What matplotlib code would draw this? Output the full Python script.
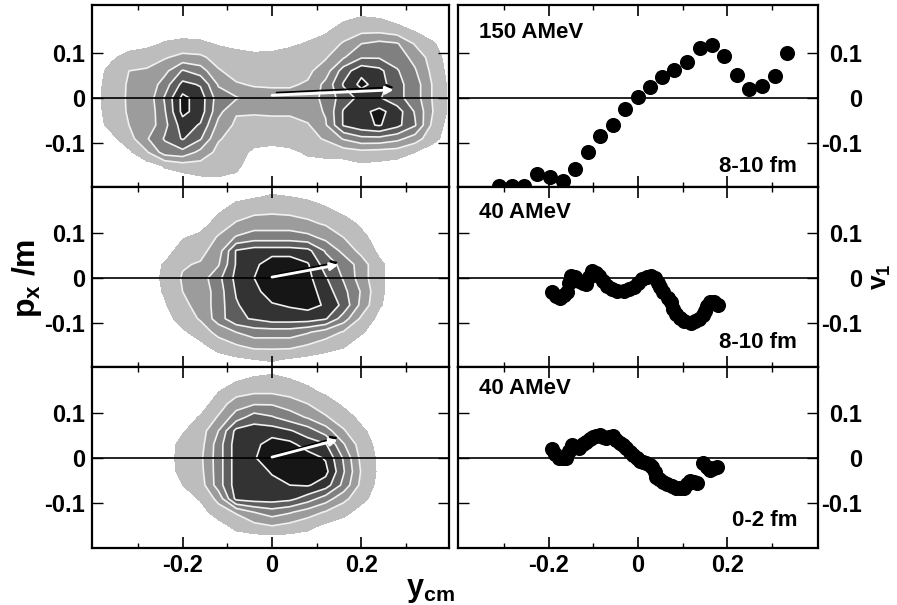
import numpy as np
import matplotlib
matplotlib.use("Agg")
import matplotlib.pyplot as plt

plt.rcParams['font.family'] = ['Liberation Sans', 'DejaVu Sans']
plt.rcParams['mathtext.fontset'] = 'custom'
plt.rcParams['mathtext.bf'] = 'Liberation Sans:bold'
plt.rcParams['mathtext.rm'] = 'Liberation Sans:bold'

W, H = 897, 605

# ---------- density grids ----------
y_rows = [.21, .18, .15, .12, .09, .06, .03, 0, -.03, -.06, -.09, -.12, -.15, -.18, -.21]
x_wide = [-.40, -.36, -.32, -.28, -.24, -.20, -.16, -.12, -.08, -.04, 0, .04, .08, .12, .16, .20, .24, .28, .32, .36, .40]
x_narrow = [-.28, -.24, -.20, -.16, -.12, -.08, -.04, 0, .04, .08, .12, .16, .20, .24, .28]

density_top = [
 [0]*21,
 [0,0,0,0,0,0,0,0,0,0,0,0,0,0,.2,.5,.4,0,0,0,0],
 [0,0,0,0,0,0,0,0,0,0,0,0,0,.3,1,1.2,1.2,.9,.4,0,0],
 [0,0,0,.2,.6,.8,.7,.4,.2,0,.1,.3,.6,1,1.6,2.5,2.8,2.6,1.4,.6,0],
 [0,.3,.9,1.1,1.4,1.8,1.7,1.1,.9,.8,.8,1,1.1,1.4,2.4,3.4,3.4,3,2.2,1,0],
 [0,.8,1.5,1.6,2.2,3.6,3,1.6,1.1,1.1,1.1,1.2,1.3,2,4,5.2,4.8,3.6,2.6,1.2,.1],
 [0,1,1.6,1.7,3,4.8,4.4,2.4,1.6,1.4,1.4,1.4,1.6,2.8,4.6,5.8,5,3.8,3,1.4,.2],
 [0,1.1,1.6,1.8,3.6,5.8,5,3,2.6,2,1.8,1.8,2,2.8,4,4.8,4.6,3.8,3,1.4,.2],
 [0,1,1.6,1.7,3.4,5.8,5,2.8,1.6,1.6,1.6,1.6,2,2.6,4.6,5.2,5.8,5,3.4,1.5,.2],
 [0,.8,1.5,1.8,3.2,5,4.4,2.2,1.3,1.2,1.3,1.3,1.4,2.4,4.6,5.2,5.6,4.8,3.6,1.2,0],
 [0,.2,1.1,2.4,3.6,4.6,3.6,1.6,1.1,.9,1,1.1,1.2,1.6,2.6,3.2,3.2,2.8,2,.8,0],
 [0,0,.3,1.4,3,3.2,2.2,1.2,.9,.3,0,.2,.7,.9,1,1.2,1.1,1,.5,0,0],
 [0,0,0,0,.6,1,1.1,.9,.7,0,0,0,0,0,0,.3,.2,0,0,0,0],
 [0,0,0,0,0,0,.3,.4,.3,0,0,0,0,0,0,0,0,0,0,0,0],
 [0]*21,
]
density_mid = [
 [0]*15,
 [0,0,0,0,0,.2,.4,.6,.5,.3,0,0,0,0,0],
 [0,0,0,0,.3,1,1.2,1.3,1.2,1.1,.7,.2,0,0,0],
 [0,0,0,0,1,1.6,2,2,2,1.7,1.4,1,.3,0,0],
 [0,0,.4,.8,1.6,2.6,3,3,3,2.8,2.2,1.5,.8,0,0],
 [0,0,1,1.2,2,4.6,5,5,5,4.8,3.4,2.2,1.2,.3,0],
 [0,.6,1.4,1.6,2.4,4.6,5.2,6.2,6.2,5.6,4,3.2,2,.7,0],
 [0,.7,1.6,2,3.2,4.8,5.5,6.5,6.5,5.8,4.6,3.4,2,.7,0],
 [0,.6,1.5,1.8,3,4.6,5.2,6,6.4,6,5,3.8,2.4,.7,0],
 [0,.4,1.3,1.8,3,4.4,5,5.4,5.6,5.8,5.4,4.2,2.2,.6,0],
 [0,0,1,1.6,3,4.3,4.6,5,5,5,4.6,3,1.3,.2,0],
 [0,0,.3,1,1.8,2.5,3,3,3,2.6,2,1.4,.6,0,0],
 [0,0,0,.2,1,1.4,1.8,1.8,1.8,1.4,1,.6,0,0,0],
 [0,0,0,0,0,.3,.5,.6,.4,.2,0,0,0,0,0],
 [0]*15,
]
density_bot = [
 [0]*15,
 [0,0,0,0,0,.2,.5,.6,.4,.1,0,0,0,0,0],
 [0,0,0,0,.4,1,1.2,1.2,1,.7,.2,0,0,0,0],
 [0,0,0,0,1,2,2.4,2.4,2,1.5,1,.3,0,0,0],
 [0,0,0,.6,1.6,3,4,3.6,3,2.4,1.6,1,.2,0,0],
 [0,0,.4,1,2.5,4.8,5,5,4.6,4,3,1.6,.7,0,0],
 [0,0,.8,1.1,3,5,5.2,6,5.8,5,4.6,2.6,1,.2,0],
 [0,0,.9,1.3,3,5,5.4,6.2,6.2,6,5.4,3.4,1.2,.3,0],
 [0,0,.8,1.2,3,5,5,5.6,6.2,6.2,5.8,3.6,1.4,.3,0],
 [0,0,.5,1,3,5,5,5.2,5.5,5.6,5,3.2,1.2,.2,0],
 [0,0,0,.6,1.8,4.8,5,5,4.8,4,3,1.8,.8,0,0],
 [0,0,0,.1,1,1.6,2.5,3,2.6,2,1.4,.8,.1,0,0],
 [0,0,0,0,.1,.8,1.2,1.5,1.2,.8,.3,0,0,0,0],
 [0]*15,
 [0]*15,
]
density_levels = [.5, 1.5, 2.5, 3.5, 4.5, 5.5, 8]
density_colors = ['#bdbdbd', '#9c9c9c', '#808080', '#5e5e5e', '#333333', '#161616']

# mean-momentum arrows (y_cm, p_x/m)
arrow_top = [(0.0, .006), (.272, .018)]
arrow_mid = [(0.0, .002), (.148, .029)]
arrow_bot = [(0.0, .002), (.147, .04)]

# ---------- v1 series ----------
v1_x_top = [-.31,-.282,-.254,-.225,-.196,-.168,-.14,-.112,-.085,-.057,-.029,-.001,.026,.054,.081,.11,.138,.166,.193,.222,.249,.278,.307,.333]
v1_y_top = [-.195,-.195,-.195,-.169,-.175,-.184,-.156,-.12,-.083,-.06,-.025,.002,.024,.047,.061,.08,.11,.118,.094,.051,.02,.027,.048,.099]
v1_x_mid = [-.192,-.184,-.175,-.165,-.158,-.154,-.149,-.14,-.132,-.124,-.116,-.11,-.104,-.095,-.087,-.078,-.069,-.058,-.046,-.031,-.02,-.009,0,.01,.02,.028,.037,.045,.05,.057,.066,.073,.078,.084,.094,.103,.119,.128,.137,.145,.151,.155,.16,.17,.178]
v1_y_mid = [-.032,-.04,-.044,-.038,-.03,-.012,.005,.002,-.006,-.012,-.013,.002,.016,.012,.005,-.006,-.017,-.024,-.028,-.028,-.024,-.019,-.01,-.002,.003,.005,0,-.01,-.02,-.032,-.044,-.054,-.068,-.08,-.088,-.095,-.099,-.096,-.091,-.082,-.073,-.063,-.054,-.054,-.059]
v1_x_bot = [-.193,-.185,-.177,-.168,-.16,-.155,-.148,-.14,-.131,-.123,-.116,-.108,-.101,-.093,-.086,-.078,-.071,-.064,-.057,-.049,-.041,-.033,-.026,-.018,-.011,-.003,.004,.012,.019,.026,.032,.037,.041,.048,.056,.065,.075,.084,.093,.104,.11,.116,.125,.133,.146,.155,.161,.17,.177]
v1_y_bot = [.02,.008,-.001,0,0,.015,.028,.025,.022,.03,.036,.041,.046,.049,.05,.046,.044,.047,.048,.04,.033,.028,.022,.014,.006,0,-.006,-.009,-.011,-.016,-.021,-.031,-.041,-.046,-.052,-.058,-.063,-.066,-.067,-.067,-.058,-.05,-.052,-.056,-.011,-.02,-.026,-.022,-.02]

energy_labels = ['150 AMeV', '40 AMeV', '40 AMeV']
centrality_labels = ['8-10 fm', '8-10 fm', '0-2 fm']
x_major = [-.2, 0, .2]
x_minor = [-.3, -.1, .1, .3]
x_ticklabels = ['-0.2', '0', '0.2']
y_major = [-.1, 0, .1]
y_ticklabels = ['-0.1', '0', '0.1']

# ---------- layout ----------
fig = plt.figure(figsize=(W / 100, H / 100), dpi=100, facecolor='white')
def rect(l, t, r, b):
    return [l / W, 1 - b / H, (r - l) / W, (b - t) / H]

panel_y = [(5, 187), (187, 367), (367, 548)]
y_zero = [98, 278, 458]
PX_X = 447.0
PX_Y = 452.0

def style(ax, side, bottom, x0, l, r, t, b, yz):
    ax.set_xlim((l - x0) / PX_X, (r - x0) / PX_X)
    ax.set_ylim((yz - b) / PX_Y, (yz - t) / PX_Y)
    ax.set_xticks(x_major)
    ax.set_xticks(x_minor, minor=True)
    ax.set_yticks(y_major)
    ax.set_yticklabels(y_ticklabels)
    if bottom:
        ax.set_xticklabels(x_ticklabels)
    else:
        ax.set_xticklabels([])
    ax.tick_params(axis='x', which='major', direction='in', top=True, bottom=True, length=8, width=1.2,
                   labelsize=17, pad=4)
    ax.tick_params(axis='x', which='minor', direction='in', top=True, bottom=True, length=3.5, width=1.0)
    ax.tick_params(axis='y', which='major', direction='in', left=True, right=True, length=8, width=1.0,
                   labelsize=17, labelleft=side == 'left', labelright=side == 'right',
                   pad=(31.5 if side == 'right' else 5))
    for s in ax.spines.values():
        s.set_linewidth(1.6)
    for tl in ax.get_xticklabels() + ax.get_yticklabels():
        tl.set_fontweight('bold')
    if side == 'right':
        for tl in ax.get_yticklabels():
            tl.set_ha('right')
    ax.axhline(0, color='black', lw=1.2, zorder=4)

densities = [(x_wide, density_top, arrow_top), (x_narrow, density_mid, arrow_mid), (x_narrow, density_bot, arrow_bot)]
series = [(v1_x_top, v1_y_top), (v1_x_mid, v1_y_mid), (v1_x_bot, v1_y_bot)]

for i in range(3):
    t, b = panel_y[i]
    yz = y_zero[i]
    # left: density map
    ax = fig.add_axes(rect(92, t, 449, b))
    gx, dens, arr = densities[i]
    ax.contourf(gx, y_rows, np.array(dens), levels=density_levels, colors=density_colors, zorder=1)
    ax.contour(gx, y_rows, np.array(dens), levels=density_levels[1:-1], colors='#f2f2f2', linewidths=1.2, zorder=2)
    style(ax, 'left', i == 2, 272, 92, 449, t, b, yz)
    (x0, y0), (x1, y1) = arr
    ax.annotate('', xy=(x1, y1 + .006), xytext=(x0 + .01, y0 + .006),
                arrowprops=dict(arrowstyle='-|>', color='black', lw=1.2, mutation_scale=10, shrinkA=0, shrinkB=0), zorder=5)
    ax.annotate('', xy=(x1, y1), xytext=(x0, y0),
                arrowprops=dict(arrowstyle='-|>', color='white', lw=2.0, mutation_scale=11, shrinkA=0, shrinkB=0), zorder=6)

    # right: v1
    ax2 = fig.add_axes(rect(458, t, 818, b))
    sx, sy = series[i]
    ax2.scatter(sx, sy, s=118, color='black', linewidths=0, zorder=5)
    style(ax2, 'right', i == 2, 638, 458, 818, t, b, yz)

for label, py in zip(energy_labels, [32, 212, 389]):
    fig.text(479 / W, 1 - py / H, label, fontsize=16, fontweight='bold', ha='left', va='center')
for label, py in zip(centrality_labels, [167, 343, 521]):
    fig.text(797 / W, 1 - py / H, label, fontsize=16, fontweight='bold', ha='right', va='center')

fig.text(430 / W, 1 - 590 / H, r'$\mathbf{y_{cm}}$', fontsize=22, ha='center', va='center')
fig.text(27 / W, 1 - 278 / H, r'$\mathbf{p_x}$ /m', fontsize=23, fontweight='bold', rotation=90, ha='center', va='center')
fig.text(881 / W, 1 - 277 / H, r'$\mathbf{v_1}$', fontsize=19, rotation=90, ha='center', va='center')

fig.savefig('out.png', dpi=100, facecolor='white')
